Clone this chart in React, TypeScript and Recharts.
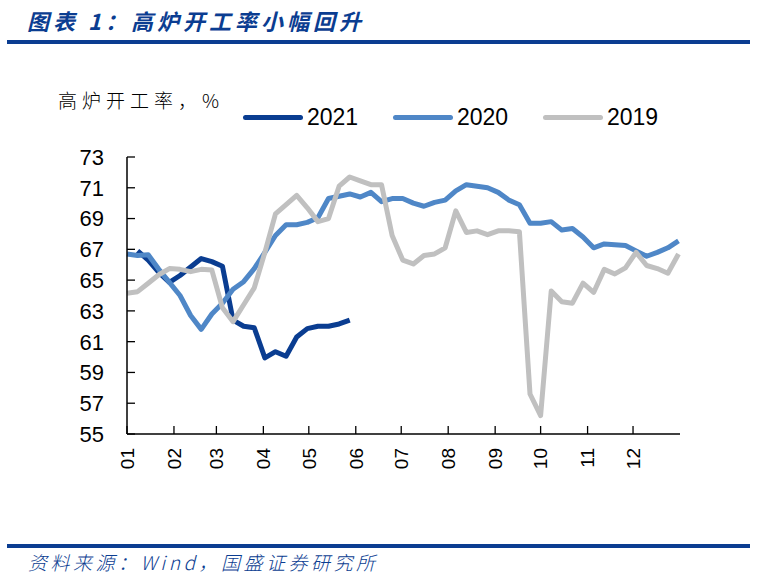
import React from "react";
import { LineChart, Line, XAxis, YAxis } from "recharts";

// weekly blast furnace utilisation, %
const months = ["01", "02", "03", "04", "05", "06", "07", "08", "09", "10", "11", "12"];
const monthStartDays = [0, 31, 59, 90, 120, 151, 181, 212, 243, 273, 304, 334];
const yTicks = [55, 57, 59, 61, 63, 65, 67, 69, 71, 73];

const rate2019 = [
  64.15, 64.25, 64.8, 65.35, 65.75, 65.7, 65.55, 65.7, 65.65, 63.2,
  62.3, 63.4, 64.5, 66.8, 69.3, 69.9, 70.5, 69.7, 68.8, 69.0,
  71.1, 71.7, 71.45, 71.2, 71.2, 67.9, 66.3, 66.05, 66.6, 66.7,
  67.1, 69.5, 68.1, 68.2, 67.95, 68.2, 68.2, 68.15, 57.6, 56.2,
  64.3, 63.6, 63.5, 64.8, 64.2, 65.7, 65.4, 65.8, 66.8, 65.95,
  65.75, 65.45, 66.7,
];

const rate2020 = [
  66.7, 66.6, 66.65, 65.7, 64.85, 64.0, 62.7, 61.8, 62.8, 63.5,
  64.4, 64.9, 65.75, 66.8, 67.9, 68.6, 68.6, 68.75, 69.05, 70.3,
  70.45, 70.6, 70.4, 70.7, 70.1, 70.3, 70.3, 70.0, 69.8, 70.05,
  70.2, 70.8, 71.2, 71.1, 71.0, 70.7, 70.2, 69.9, 68.7, 68.7,
  68.8, 68.25, 68.35, 67.8, 67.1, 67.35, 67.3, 67.25, 66.9, 66.55,
  66.8, 67.1, 67.55,
];

// 2021 starts one week in
const rate2021 = [
  66.9, 66.3, 65.5, 64.85, 65.3, 65.85, 66.4, 66.2, 65.9, 62.4,
  62.0, 61.9, 59.95, 60.35, 60.05, 61.3, 61.85, 62.0, 62.0, 62.15,
  62.4,
];

const series = [
  { key: "y2021", name: "2021", color: "#0A3D91" },
  { key: "y2020", name: "2020", color: "#4F87C7" },
  { key: "y2019", name: "2019", color: "#C0C0C0" },
];

const data = rate2020.map((v, i) => ({
  day: i * 7,
  y2019: rate2019[i],
  y2020: v,
  y2021: i >= 1 && i - 1 < rate2021.length ? rate2021[i - 1] : null,
}));

const NAVY = "#0B3D91";
const numFont = "'Liberation Sans', Arial, sans-serif";

function YTick(props: any) {
  const { x, y, payload } = props;
  return (
    <g>
      <line x1={x} x2={x + 8} y1={y} y2={y} stroke="#000" strokeWidth={1.3} />
      <text x={x - 23} y={y} dy="0.36em" textAnchor="end" fontSize={22} fontFamily={numFont} fill="#000">
        {payload.value}
      </text>
    </g>
  );
}

function XTick(props: any) {
  const { x, y, payload, index } = props;
  return (
    <g>
      <line x1={x} x2={x} y1={y} y2={y - 8} stroke="#000" strokeWidth={1.3} />
      <text
        x={x}
        y={y + 14}
        dy="0.36em"
        textAnchor="end"
        transform={`rotate(-90, ${x}, ${y + 14})`}
        fontSize={19}
        fontFamily={numFont}
        fill="#000"
      >
        {months[index] ?? payload.value}
      </text>
    </g>
  );
}

function LegendBox() {
  return (
    <div style={{ display: "flex", alignItems: "center" }}>
      {series.map((s) => (
        <div key={s.key} style={{ display: "flex", alignItems: "center", width: 150 }}>
          <div style={{ width: 60, height: 5, borderRadius: 3, background: s.color }} />
          <span style={{ marginLeft: 4, fontSize: 23, fontFamily: numFont, color: "#000", lineHeight: "28px" }}>
            {s.name}
          </span>
        </div>
      ))}
    </div>
  );
}

export default function App() {
  return (
    <div style={{ position: "absolute", left: 0, top: 0, width: 759, height: 576, background: "#fff", overflow: "hidden" }}>
      <div
        style={{
          position: "absolute",
          left: 27,
          top: 4,
          fontSize: 22,
          fontWeight: "bold",
          fontStyle: "italic",
          letterSpacing: 4,
          color: NAVY,
          fontFamily: "'Noto Sans CJK SC', sans-serif",
          whiteSpace: "nowrap",
        }}
      >
        图表 1：高炉开工率小幅回升
      </div>
      <div style={{ position: "absolute", left: 7, top: 40, width: 743, height: 4, background: NAVY }} />

      <div
        style={{
          position: "absolute",
          left: 58,
          top: 86,
          fontSize: 19,
          letterSpacing: 5,
          color: "#000",
          fontFamily: "'Noto Sans CJK SC', sans-serif",
          fontWeight: 300,
          whiteSpace: "nowrap",
        }}
      >
        高炉开工率，%
      </div>

      <div style={{ position: "absolute", left: 243, top: 103 }}>
        <LegendBox />
      </div>

      <div style={{ position: "absolute", left: 0, top: 0 }}>
        <LineChart width={759} height={576} data={data} margin={{ top: 157, right: 79, bottom: 82, left: 0 }}>
          <XAxis
            dataKey="day"
            type="number"
            domain={[0, 365]}
            ticks={monthStartDays}
            interval={0}
            height={60}
            tickSize={0}
            tickMargin={0}
            axisLine={{ stroke: "#000", strokeWidth: 1.5 }}
            tickLine={false}
            tick={<XTick />}
          />
          <YAxis
            type="number"
            domain={[55, 73]}
            ticks={yTicks}
            interval={0}
            width={127}
            tickSize={0}
            tickMargin={0}
            axisLine={{ stroke: "#000", strokeWidth: 1.5 }}
            tickLine={false}
            tick={<YTick />}
          />
          {series.map((s) => (
            <Line
              key={s.key}
              type="linear"
              dataKey={s.key}
              name={s.name}
              stroke={s.color}
              strokeWidth={5}
              strokeLinejoin="round"
              dot={false}
              activeDot={false}
              connectNulls={false}
              isAnimationActive={false}
            />
          ))}
        </LineChart>
      </div>

      <div style={{ position: "absolute", left: 7, top: 544, width: 743, height: 4, background: NAVY }} />
      <div
        style={{
          position: "absolute",
          left: 28,
          top: 548,
          fontSize: 19,
          fontStyle: "italic",
          letterSpacing: 3.5,
          color: NAVY,
          fontFamily: "'Noto Sans CJK SC', sans-serif",
          fontWeight: 300,
          whiteSpace: "nowrap",
        }}
      >
        资料来源：Wind，国盛证券研究所
      </div>
    </div>
  );
}
